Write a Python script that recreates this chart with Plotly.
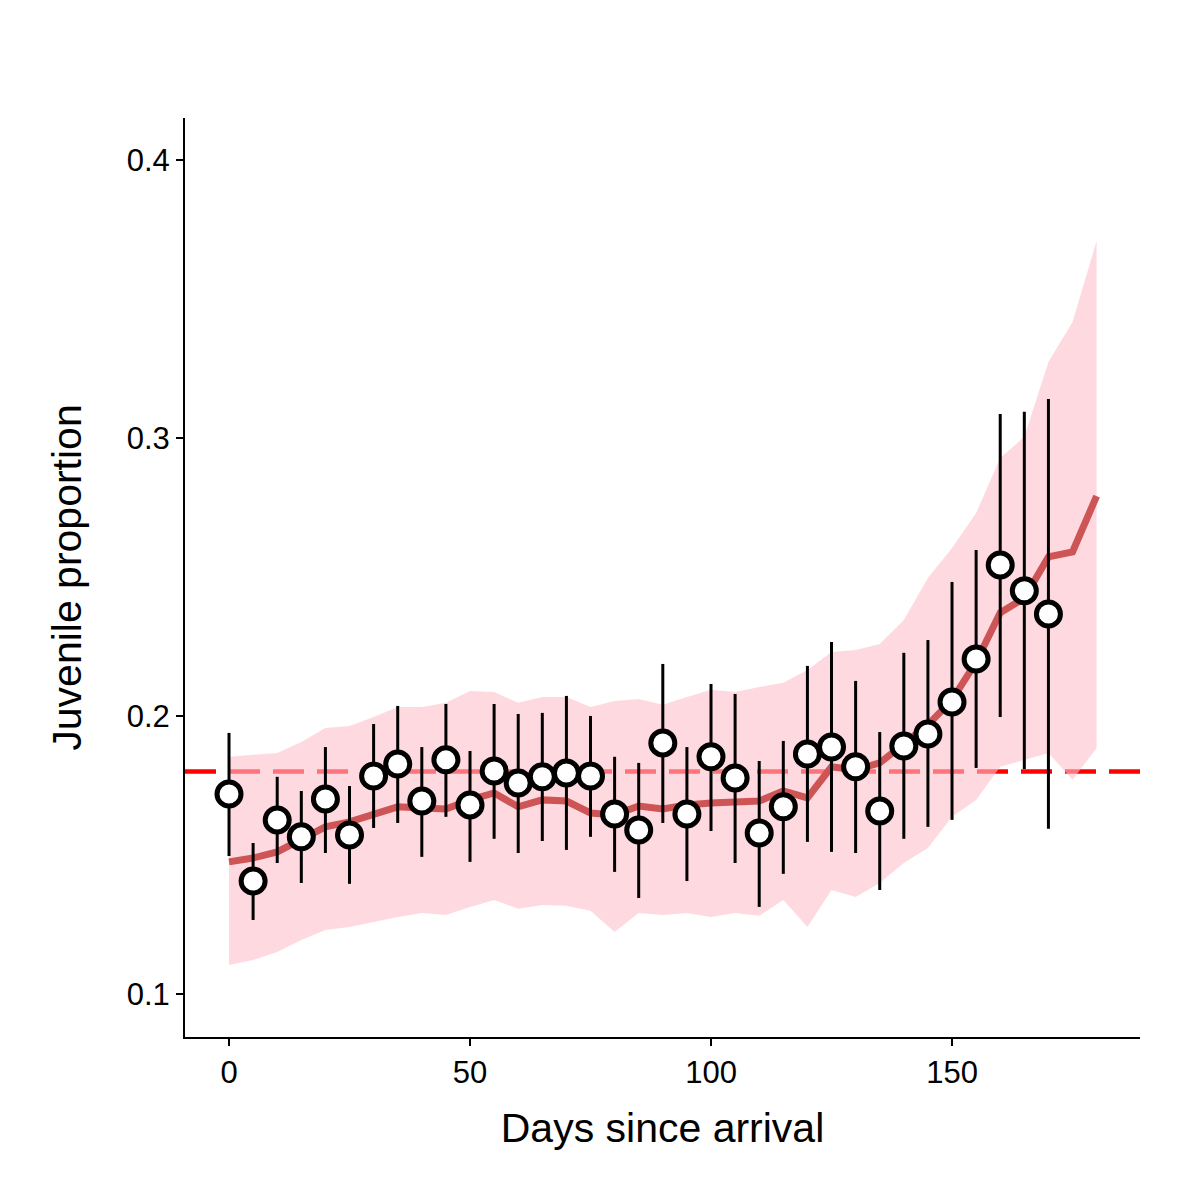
import plotly.graph_objects as go

# Observed proportions (points with error bars)
days_obs = [0, 5, 10, 15, 20, 25, 30, 35, 40, 45, 50, 55, 60, 65, 70, 75, 80, 85,
            90, 95, 100, 105, 110, 115, 120, 125, 130, 135, 140, 145, 150, 155, 160, 165, 170]
prop_obs = [0.1719, 0.1406, 0.1626, 0.1565, 0.1701, 0.1572, 0.1784, 0.1827, 0.1694, 0.1842,
            0.1680, 0.1802, 0.1759, 0.1781, 0.1795, 0.1784, 0.1647, 0.1590, 0.1903, 0.1647,
            0.1853, 0.1777, 0.1579, 0.1673, 0.1863, 0.1888, 0.1817, 0.1658, 0.1892, 0.1935,
            0.2050, 0.2205, 0.2543, 0.2450, 0.2367]
obs_upper = [0.1939, 0.1543, 0.1781, 0.1730, 0.1888, 0.1748, 0.1971, 0.2036, 0.1888, 0.2043,
             0.1874, 0.2043, 0.2007, 0.2011, 0.2072, 0.2000, 0.1853, 0.1831, 0.2187, 0.1888,
             0.2115, 0.2079, 0.1838, 0.1910, 0.2180, 0.2266, 0.2126, 0.1942, 0.2227, 0.2273,
             0.2482, 0.2597, 0.3086, 0.3094, 0.3140]
obs_lower = [0.1496, 0.1266, 0.1471, 0.1399, 0.1507, 0.1396, 0.1597, 0.1615, 0.1493, 0.1637,
             0.1475, 0.1558, 0.1507, 0.1550, 0.1518, 0.1565, 0.1439, 0.1345, 0.1615, 0.1406,
             0.1586, 0.1471, 0.1313, 0.1432, 0.1547, 0.1511, 0.1507, 0.1374, 0.1558, 0.1601,
             0.1626, 0.1813, 0.1996, 0.1809, 0.1594]

# Model fit with ribbon
days_fit = [0, 5, 10, 15, 20, 25, 30, 35, 40, 45, 50, 55, 60, 65, 70, 75, 80, 85, 90,
            95, 100, 105, 110, 115, 120, 125, 130, 135, 140, 145, 150, 155, 160, 165, 170, 175, 180]
fit_mean = [0.1475, 0.1489, 0.1511, 0.1554, 0.1601, 0.1619, 0.1644, 0.1673, 0.1669, 0.1665,
            0.1698, 0.1723, 0.1673, 0.1698, 0.1694, 0.1651, 0.1644, 0.1676, 0.1665, 0.1680,
            0.1687, 0.1691, 0.1694, 0.1730, 0.1705, 0.1817, 0.1806, 0.1831, 0.1896, 0.1968,
            0.2058, 0.2194, 0.2371, 0.2424, 0.2572, 0.2590, 0.2791]
fit_upper = [0.1853, 0.1860, 0.1867, 0.1906, 0.1957, 0.1964, 0.1996, 0.2032, 0.2032, 0.2047,
             0.2090, 0.2086, 0.2047, 0.2068, 0.2068, 0.2032, 0.2054, 0.2061, 0.2040, 0.2068,
             0.2094, 0.2086, 0.2104, 0.2119, 0.2165, 0.2230, 0.2237, 0.2259, 0.2345, 0.2496,
             0.2604, 0.2730, 0.2928, 0.3004, 0.3273, 0.3417, 0.3709]
fit_lower = [0.1104, 0.1122, 0.1151, 0.1194, 0.1230, 0.1241, 0.1259, 0.1277, 0.1291, 0.1284,
             0.1313, 0.1338, 0.1306, 0.1320, 0.1317, 0.1299, 0.1223, 0.1291, 0.1284, 0.1291,
             0.1277, 0.1291, 0.1281, 0.1338, 0.1241, 0.1374, 0.1349, 0.1399, 0.1471, 0.1525,
             0.1637, 0.1698, 0.1817, 0.1842, 0.1867, 0.1770, 0.1885]

reference_level = 0.18

x_ticks = [0, 50, 100, 150]
y_ticks = [0.1, 0.2, 0.3, 0.4]
y_tick_text = ["0.1", "0.2", "0.3", "0.4"]

FONT = "Liberation Sans, Arial, Helvetica, sans-serif"

fig = go.Figure()

# ribbon
fig.add_trace(go.Scatter(x=days_fit, y=fit_lower, mode="lines", line=dict(width=0),
                         hoverinfo="skip", showlegend=False))
fig.add_trace(go.Scatter(x=days_fit, y=fit_upper, mode="lines", line=dict(width=0),
                         fill="tonexty", fillcolor="rgba(255,192,203,0.6)",
                         hoverinfo="skip", showlegend=False))
# fitted line
fig.add_trace(go.Scatter(x=days_fit, y=fit_mean, mode="lines",
                         line=dict(color="#CD5555", width=7), showlegend=False))
# points with error bars
err_plus = [u - p for u, p in zip(obs_upper, prop_obs)]
err_minus = [p - l for p, l in zip(prop_obs, obs_lower)]
fig.add_trace(go.Scatter(x=days_obs, y=prop_obs, mode="markers",
                         marker=dict(size=24, color="white", line=dict(color="black", width=5)),
                         error_y=dict(type="data", symmetric=False, array=err_plus,
                                      arrayminus=err_minus, color="black", thickness=3, width=0),
                         showlegend=False))

fig.add_shape(type="line", xref="paper", yref="y", x0=0, x1=1,
              y0=reference_level, y1=reference_level,
              line=dict(color="#FF0000", width=4.5, dash="31px,13px"), layer="below")

fig.update_layout(
    width=1200, height=1200,
    paper_bgcolor="white", plot_bgcolor="white",
    margin=dict(l=177, r=68, t=110, b=171),
    font=dict(family=FONT, color="black"),
    showlegend=False,
)
fig.update_xaxes(range=[-9.13, 189.0], tickvals=x_ticks, ticktext=[str(t) for t in x_ticks],
                 showgrid=False, zeroline=False, showline=True, linecolor="black", linewidth=2,
                 ticks="outside", ticklen=7, tickwidth=2, tickcolor="black",
                 tickfont=dict(size=31, family=FONT, color="black"),
                 title=dict(text="Days since arrival", font=dict(size=41, family=FONT, color="black"),
                            standoff=24))
fig.update_yaxes(range=[0.0845, 0.4151], tickvals=y_ticks, ticktext=y_tick_text,
                 showgrid=False, zeroline=False, showline=True, linecolor="black", linewidth=2,
                 ticks="outside", ticklen=7, tickwidth=2, tickcolor="black",
                 tickfont=dict(size=31, family=FONT, color="black"),
                 title=dict(text="Juvenile proportion", font=dict(size=41, family=FONT, color="black"),
                            standoff=32))

fig.write_html("out.html")
